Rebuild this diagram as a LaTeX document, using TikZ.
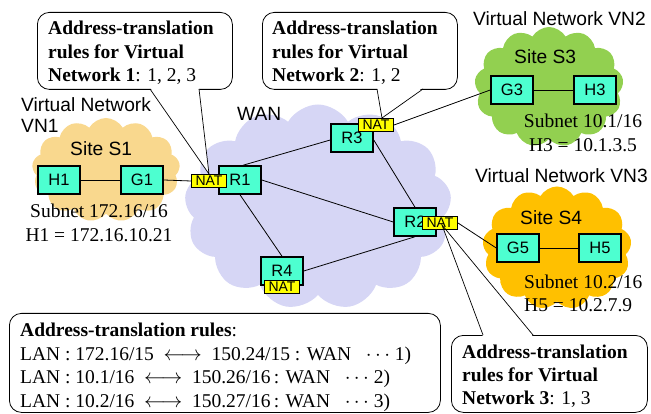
\documentclass[tikz,border=0pt]{standalone}
\usepackage{fontspec}
\setmainfont{Liberation Serif}
\setsansfont{Liberation Sans}
\usetikzlibrary{shapes.symbols,shadows}
\definecolor{devc}{RGB}{77,255,208}
\definecolor{wanc}{RGB}{214,214,245}
\definecolor{vnonec}{RGB}{249,216,142}
\definecolor{vntwoc}{RGB}{146,208,80}
\definecolor{vnthreec}{RGB}{255,192,0}
\definecolor{natc}{RGB}{255,255,0}
\newcommand{\sfs}{\sffamily\fontsize{19.2}{21}\selectfont}
\newcommand{\rms}{\rmfamily\fontsize{19.5}{23.5}\selectfont}
\pgfdeclarelayer{back}
\pgfdeclarelayer{mid}
\pgfsetlayers{back,mid,main}
\tikzset{
 dev/.style={draw=black, line width=1.5pt, fill=devc, minimum width=42pt, minimum height=28pt, inner sep=0pt,
   font=\sffamily\fontsize{16.5}{16.5}\selectfont,
   drop shadow={shadow xshift=1pt, shadow yshift=-1.5pt, fill=black!60, opacity=0.6}},
 nat/.style={draw=black, line width=1pt, fill=natc, minimum width=35pt, minimum height=13pt, inner sep=0pt,
   font=\sffamily\fontsize{14}{14}\selectfont},
 link/.style={draw=black, line width=0.8pt},
 pointer/.style={draw=black, line width=0.7pt},
 cloudbg/.style={cloud, cloud puffs=13, cloud puff arc=120, draw=none, inner sep=0pt},
 callbox/.style={draw=black, line width=0.8pt, rounded corners=12pt, fill=white, inner sep=0pt, anchor=north west},
 lbl/.style={inner sep=0pt, anchor=base west},
}
\begin{document}
\begin{tikzpicture}[x=1pt,y=-1pt]
\useasboundingbox (0,0) rectangle (651,414);
% clouds
\begin{pgfonlayer}{back}
 \node[cloudbg, fill=vnonec, minimum width=148pt, minimum height=104pt] (cl1) at (106,170) {};
 \node[cloudbg, fill=wanc, minimum width=267pt, minimum height=205pt] (clw) at (318,207) {};
 \node[cloudbg, fill=vntwoc, minimum width=149pt, minimum height=120pt] (cl2) at (549,87) {};
 \node[cloudbg, fill=vnthreec, minimum width=149pt, minimum height=123pt] (cl3) at (557,248) {};
\end{pgfonlayer}
% labels
\node[lbl] (vn1) at (21,112) {\parbox[t]{150pt}{\sfs Virtual Network\\VN1}};
\node[lbl] (wanl) at (237,121) {\sfs WAN};
\node[lbl] (s1) at (70,156) {\sfs Site S1};
\node[anchor=base, inner sep=0pt] (sub1) at (99,218) {\parbox[t]{200pt}{\centering\rms Subnet 172.16/16\\H1 = 172.16.10.21}};
\node[lbl] (vn2) at (473,26) {\sfs Virtual Network VN2};
\node[lbl] (s3) at (514,64) {\sfs Site S3};
\node[anchor=base, inner sep=0pt] (sub3) at (583,128) {\parbox[t]{200pt}{\centering\rms Subnet 10.1/16\\H3 = 10.1.3.5}};
\node[lbl] (vn3) at (475,183) {\sfs Virtual Network VN3};
\node[lbl] (s4) at (520,225) {\sfs Site S4};
\node[lbl] (sub4) at (524,288) {\parbox[t]{200pt}{\rms Subnet 10.2/16\\H5 = 10.2.7.9}};
% devices
\node[dev] (h1) at (59,180) {H1};
\node[dev] (g1) at (142,180) {G1};
\node[dev] (r1) at (240,180) {R1};
\node[dev] (r3) at (352,138) {R3};
\node[dev] (r2) at (415,222) {R2};
\node[dev] (r4) at (282,271) {R4};
\node[dev] (g3) at (512,90) {G3};
\node[dev] (h3) at (595,90) {H3};
\node[dev] (g5) at (518,248) {G5};
\node[dev] (h5) at (600,248) {H5};
\node[nat] (nat1) at (209,181) {NAT};
\node[nat] (nat3) at (376,125) {NAT};
\node[nat] (nat2) at (440,223) {NAT};
\node[nat] (nat4) at (282,287) {NAT};
% links
\draw[link] (h1) -- (g1);
\draw[link] (g1.east) -- (nat1.west);
\draw[link] ([xshift=3pt]r1.north) -- ([yshift=-2pt]r3.west);
\draw[link] (r1.east) -- (r2.west);
\draw[link] (r1.south) -- (r4.north);
\draw[link] ([yshift=-2pt]r3.east) -- (r2.north);
\draw[link] (r4.east) -- (r2.south);
\draw[link] (nat3.east) -- (g3.west);
\draw[link] (nat2.east) -- (g5.west);
\draw[link] (g3) -- (h3);
\draw[link] (g5) -- (h5);
% callouts
\coordinate (p1a) at (150,89); \coordinate (p1b) at (199,89);
\coordinate (p2a) at (377,89); \coordinate (p2b) at (423,89);
\coordinate (p3a) at (483,335); \coordinate (p3b) at (533,335);
\coordinate (tip1) at (nat1.north);
\coordinate (tip2) at ([xshift=6pt]nat3.north);
\coordinate (tip3) at ([xshift=2pt,yshift=-2pt]nat2.center);
\begin{pgfonlayer}{mid}
 \node[callbox, minimum width=195pt, minimum height=77pt] (cb1) at (37,12) {};
 \node[callbox, minimum width=195pt, minimum height=77pt] (cb2) at (262,12) {};
 \node[callbox, minimum width=196pt, minimum height=77pt] (cb3) at (451,335) {};
 \node[callbox, minimum width=431pt, minimum height=99pt] (cb4) at (9,313) {};
 \fill[white] ([yshift=1.5pt]p1a) -- (tip1) -- ([yshift=1.5pt]p1b) -- cycle;
 \fill[white] ([yshift=1.5pt]p2a) -- (tip2) -- ([yshift=1.5pt]p2b) -- cycle;
 \fill[white] ([yshift=-1.5pt]p3a) -- (tip3) -- ([yshift=-1.5pt]p3b) -- cycle;
\end{pgfonlayer}
\draw[pointer] (p1a) -- (tip1) -- (p1b);
\draw[pointer] (p2a) -- (tip2) -- (p2b);
\draw[pointer] (p3a) -- (tip3) -- (p3b);
\node[lbl] (tx1) at (48,35) {\parbox[t]{190pt}{\rms\textbf{Address-translation}\\\textbf{rules for Virtual}\\\textbf{Network 1}: 1, 2, 3}};
\node[lbl] (tx2) at (272,35) {\parbox[t]{190pt}{\rms\textbf{Address-translation}\\\textbf{rules for Virtual}\\\textbf{Network 2}: 1, 2}};
\node[lbl] (tx3) at (462,358) {\parbox[t]{190pt}{\rms\textbf{Address-translation}\\\textbf{rules for Virtual}\\\textbf{Network 3}: 1, 3}};
\node[lbl] (tx4) at (20,337) {\parbox[t]{420pt}{\rms\textbf{Address-translation rules}:\\
LAN : 172.16/15 \ $\longleftrightarrow$ \ 150.24/15 : WAN \ \ $\cdots$ 1)\\
LAN : 10.1/16 \ $\longleftrightarrow$ \ 150.26/16\,: WAN \ \ $\cdots$ 2)\\
LAN : 10.2/16 \ $\longleftrightarrow$ \ 150.27/16\,: WAN \ \ $\cdots$ 3)}};
\end{tikzpicture}
\end{document}
